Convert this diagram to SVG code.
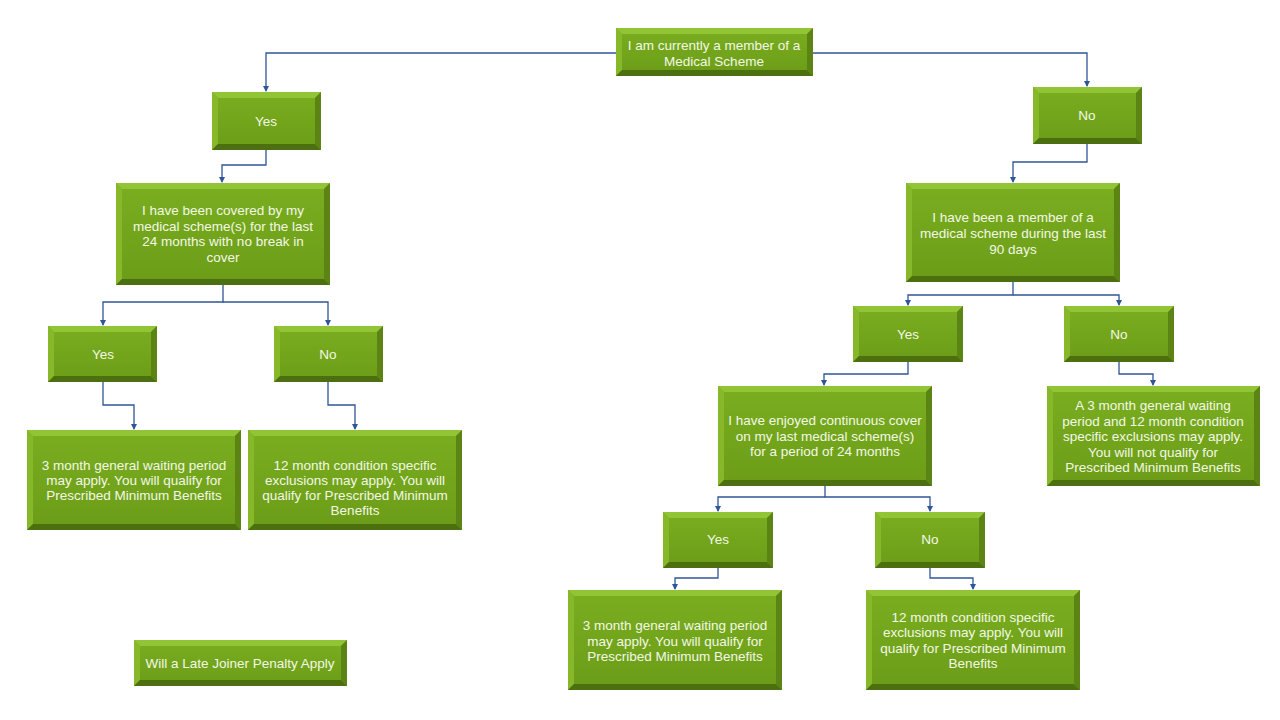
<svg xmlns="http://www.w3.org/2000/svg" width="1280" height="720" viewBox="0 0 1280 720">
<defs>
<marker id="arr" markerWidth="6" markerHeight="6" refX="5" refY="3" orient="auto" markerUnits="userSpaceOnUse">
<path d="M0,0 L6,3 L0,6 z" fill="#2f5597"/>
</marker>
<linearGradient id="g" x1="0" y1="0" x2="0" y2="1">
<stop offset="0" stop-color="#7aae20"/>
<stop offset="1" stop-color="#6c9c18"/>
</linearGradient>
<style>
.body{fill:url(#g)}
.bt{fill:#92c536}
.bl{fill:#86b82a}
.bb{fill:#4c6f10}
.br{fill:#5b8414}
text{font-family:"Liberation Sans",Arial,sans-serif;font-size:13.5px;fill:#f2f8e6;text-anchor:middle}
.c path{fill:none;stroke:#2f5597;stroke-width:1.3;marker-end:url(#arr)}
</style>
</defs>
<rect width="1280" height="720" fill="#ffffff"/>

<g class="c" id="connectors">
<path d="M616,53 H266 V91"/>
<path d="M813,53 H1087 V86"/>
<path d="M266,150 V165 H222 V182"/>
<path d="M1087,144 V162 H1013 V182"/>
<path d="M223,285 V302 H103 V325"/>
<path d="M223,302 H328 V325"/>
<path d="M103,382 V405 H134 V429"/>
<path d="M328,382 V405 H355 V429"/>
<path d="M1013,282 V295 H908 V305"/>
<path d="M1013,295 H1119 V305"/>
<path d="M908,362 V374 H824 V385"/>
<path d="M1119,362 V374 H1153 V385"/>
<path d="M825,486 V497 H718 V511"/>
<path d="M825,497 H930 V511"/>
<path d="M718,568 V578 H675 V589"/>
<path d="M930,568 V578 H973 V589"/>
</g>

<g id="n-top">
<rect class="body" x="616" y="28" width="197" height="48"/>
<polygon class="bt" points="616,28 813,28 807,34 622,34"/>
<polygon class="bl" points="616,28 622,34 622,70 616,76"/>
<polygon class="bb" points="616,76 622,70 807,70 813,76"/>
<polygon class="br" points="813,28 813,76 807,70 807,34"/>
<text x="714" y="49.5">I am currently a member of a</text>
<text x="714" y="65.5">Medical Scheme</text>
</g>

<g id="n-yes-l">
<rect class="body" x="212" y="92" width="109" height="58"/>
<polygon class="bt" points="212,92 321,92 315,98 218,98"/>
<polygon class="bl" points="212,92 218,98 218,144 212,150"/>
<polygon class="bb" points="212,150 218,144 315,144 321,150"/>
<polygon class="br" points="321,92 321,150 315,144 315,98"/>
<text x="266" y="125.5">Yes</text>
</g>

<g id="n-no-r">
<rect class="body" x="1033" y="87" width="109" height="57"/>
<polygon class="bt" points="1033,87 1142,87 1136,93 1039,93"/>
<polygon class="bl" points="1033,87 1039,93 1039,138 1033,144"/>
<polygon class="bb" points="1033,144 1039,138 1136,138 1142,144"/>
<polygon class="br" points="1142,87 1142,144 1136,138 1136,93"/>
<text x="1087" y="119.5">No</text>
</g>

<g id="n-q-l">
<rect class="body" x="116" y="183" width="214" height="102"/>
<polygon class="bt" points="116,183 330,183 324,189 122,189"/>
<polygon class="bl" points="116,183 122,189 122,279 116,285"/>
<polygon class="bb" points="116,285 122,279 324,279 330,285"/>
<polygon class="br" points="330,183 330,285 324,279 324,189"/>
<text x="223" y="214.5">I have been covered by my</text>
<text x="223" y="230.5">medical scheme(s) for the last</text>
<text x="223" y="245.5">24 months with no break in</text>
<text x="223" y="261.5">cover</text>
</g>

<g id="n-q-r">
<rect class="body" x="906" y="183" width="214" height="99"/>
<polygon class="bt" points="906,183 1120,183 1114,189 912,189"/>
<polygon class="bl" points="906,183 912,189 912,276 906,282"/>
<polygon class="bb" points="906,282 912,276 1114,276 1120,282"/>
<polygon class="br" points="1120,183 1120,282 1114,276 1114,189"/>
<text x="1013" y="221.5">I have been a member of a</text>
<text x="1013" y="237.5">medical scheme during the last</text>
<text x="1013" y="253.5">90 days</text>
</g>

<g id="n-yes-ll">
<rect class="body" x="48" y="326" width="109" height="56"/>
<polygon class="bt" points="48,326 157,326 151,332 54,332"/>
<polygon class="bl" points="48,326 54,332 54,376 48,382"/>
<polygon class="bb" points="48,382 54,376 151,376 157,382"/>
<polygon class="br" points="157,326 157,382 151,376 151,332"/>
<text x="103" y="358.5">Yes</text>
</g>

<g id="n-no-ll">
<rect class="body" x="274" y="326" width="109" height="56"/>
<polygon class="bt" points="274,326 383,326 377,332 280,332"/>
<polygon class="bl" points="274,326 280,332 280,376 274,382"/>
<polygon class="bb" points="274,382 280,376 377,376 383,382"/>
<polygon class="br" points="383,326 383,382 377,376 377,332"/>
<text x="328" y="358.5">No</text>
</g>

<g id="n-res-l1">
<rect class="body" x="27" y="430" width="214" height="100"/>
<polygon class="bt" points="27,430 241,430 235,436 33,436"/>
<polygon class="bl" points="27,430 33,436 33,524 27,530"/>
<polygon class="bb" points="27,530 33,524 235,524 241,530"/>
<polygon class="br" points="241,430 241,530 235,524 235,436"/>
<text x="134" y="469.5">3 month general waiting period</text>
<text x="134" y="484.5">may apply. You will qualify for</text>
<text x="134" y="499.5">Prescribed Minimum Benefits</text>
</g>

<g id="n-res-l2">
<rect class="body" x="248" y="430" width="214" height="100"/>
<polygon class="bt" points="248,430 462,430 456,436 254,436"/>
<polygon class="bl" points="248,430 254,436 254,524 248,530"/>
<polygon class="bb" points="248,530 254,524 456,524 462,530"/>
<polygon class="br" points="462,430 462,530 456,524 456,436"/>
<text x="355" y="469.5">12 month condition specific</text>
<text x="355" y="484.5">exclusions may apply. You will</text>
<text x="355" y="499.5">qualify for Prescribed Minimum</text>
<text x="355" y="514.5">Benefits</text>
</g>

<g id="n-yes-r">
<rect class="body" x="853" y="306" width="110" height="56"/>
<polygon class="bt" points="853,306 963,306 957,312 859,312"/>
<polygon class="bl" points="853,306 859,312 859,356 853,362"/>
<polygon class="bb" points="853,362 859,356 957,356 963,362"/>
<polygon class="br" points="963,306 963,362 957,356 957,312"/>
<text x="908" y="338.5">Yes</text>
</g>

<g id="n-no-rr">
<rect class="body" x="1064" y="306" width="110" height="56"/>
<polygon class="bt" points="1064,306 1174,306 1168,312 1070,312"/>
<polygon class="bl" points="1064,306 1070,312 1070,356 1064,362"/>
<polygon class="bb" points="1064,362 1070,356 1168,356 1174,362"/>
<polygon class="br" points="1174,306 1174,362 1168,356 1168,312"/>
<text x="1119" y="338.5">No</text>
</g>

<g id="n-q-r2">
<rect class="body" x="718" y="386" width="214" height="100"/>
<polygon class="bt" points="718,386 932,386 926,392 724,392"/>
<polygon class="bl" points="718,386 724,392 724,480 718,486"/>
<polygon class="bb" points="718,486 724,480 926,480 932,486"/>
<polygon class="br" points="932,386 932,486 926,480 926,392"/>
<text x="825" y="424.5">I have enjoyed continuous cover</text>
<text x="825" y="440.5">on my last medical scheme(s)</text>
<text x="825" y="455.5">for a period of 24 months</text>
</g>

<g id="n-res-rn">
<rect class="body" x="1047" y="386" width="213" height="100"/>
<polygon class="bt" points="1047,386 1260,386 1254,392 1053,392"/>
<polygon class="bl" points="1047,386 1053,392 1053,480 1047,486"/>
<polygon class="bb" points="1047,486 1053,480 1254,480 1260,486"/>
<polygon class="br" points="1260,386 1260,486 1254,480 1254,392"/>
<text x="1153" y="409.5">A 3 month general waiting</text>
<text x="1153" y="425.5">period and 12 month condition</text>
<text x="1153" y="440.5">specific exclusions may apply.</text>
<text x="1153" y="456.5">You will not qualify for</text>
<text x="1153" y="471.5">Prescribed Minimum Benefits</text>
</g>

<g id="n-yes-r2">
<rect class="body" x="663" y="512" width="110" height="56"/>
<polygon class="bt" points="663,512 773,512 767,518 669,518"/>
<polygon class="bl" points="663,512 669,518 669,562 663,568"/>
<polygon class="bb" points="663,568 669,562 767,562 773,568"/>
<polygon class="br" points="773,512 773,568 767,562 767,518"/>
<text x="718" y="543.5">Yes</text>
</g>

<g id="n-no-r2">
<rect class="body" x="875" y="512" width="110" height="56"/>
<polygon class="bt" points="875,512 985,512 979,518 881,518"/>
<polygon class="bl" points="875,512 881,518 881,562 875,568"/>
<polygon class="bb" points="875,568 881,562 979,562 985,568"/>
<polygon class="br" points="985,512 985,568 979,562 979,518"/>
<text x="930" y="543.5">No</text>
</g>

<g id="n-res-r1">
<rect class="body" x="568" y="590" width="214" height="100"/>
<polygon class="bt" points="568,590 782,590 776,596 574,596"/>
<polygon class="bl" points="568,590 574,596 574,684 568,690"/>
<polygon class="bb" points="568,690 574,684 776,684 782,690"/>
<polygon class="br" points="782,590 782,690 776,684 776,596"/>
<text x="675" y="629.5">3 month general waiting period</text>
<text x="675" y="645.5">may apply. You will qualify for</text>
<text x="675" y="660.5">Prescribed Minimum Benefits</text>
</g>

<g id="n-res-r2">
<rect class="body" x="866" y="590" width="214" height="100"/>
<polygon class="bt" points="866,590 1080,590 1074,596 872,596"/>
<polygon class="bl" points="866,590 872,596 872,684 866,690"/>
<polygon class="bb" points="866,690 872,684 1074,684 1080,690"/>
<polygon class="br" points="1080,590 1080,690 1074,684 1074,596"/>
<text x="973" y="621.5">12 month condition specific</text>
<text x="973" y="636.5">exclusions may apply. You will</text>
<text x="973" y="652.5">qualify for Prescribed Minimum</text>
<text x="973" y="667.5">Benefits</text>
</g>

<g id="n-late">
<rect class="body" x="134" y="640" width="213" height="46"/>
<polygon class="bt" points="134,640 347,640 341,646 140,646"/>
<polygon class="bl" points="134,640 140,646 140,680 134,686"/>
<polygon class="bb" points="134,686 140,680 341,680 347,686"/>
<polygon class="br" points="347,640 347,686 341,680 341,646"/>
<text x="240" y="667.5">Will a Late Joiner Penalty Apply</text>
</g>
</svg>
